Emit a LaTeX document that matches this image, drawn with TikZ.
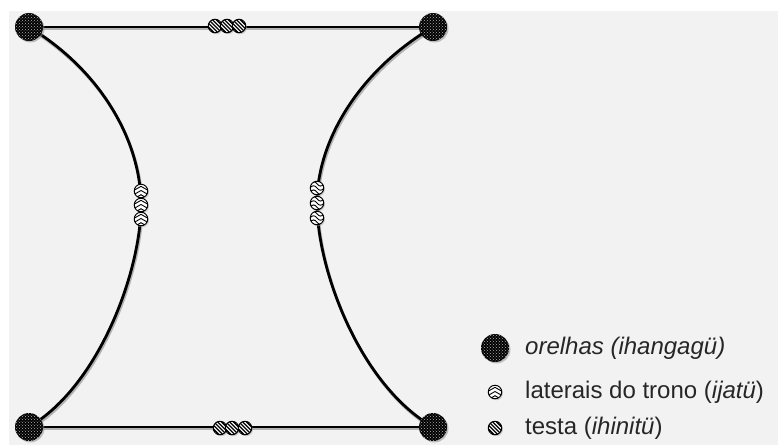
\documentclass[tikz,border=0pt]{standalone}
\usepackage{fontspec}
\setmainfont{Liberation Sans}
\usetikzlibrary{shadows,patterns}

\tikzset{
  cord/.style={line width=2.8pt, preaction={draw=black!30, line width=2.8pt, transform canvas={shift={(1,2)}}}},
  ear/.style={circle, minimum size=28pt, inner sep=0pt, fill=black,
    drop shadow={shadow xshift=1.5pt, shadow yshift=-1.5pt, fill=black!45},
    postaction={pattern=crosshatch dots, pattern color=white!70!black}},
  bead/.style={circle, minimum size=13.5pt, inner sep=0pt, draw=black, line width=1pt, fill=white,
    drop shadow={shadow xshift=1.2pt, shadow yshift=-1.5pt, fill=black!35}},
  stripebead/.style={bead, path picture={
    \begin{scope}[shift={(path picture bounding box.center)}]
      \foreach \o in {-11.4,-7.6,...,11.4}
        \draw[line width=1.3pt] (\o-8,-8) -- (\o+8,8);
    \end{scope}}},
  chevbead/.style={bead, path picture={
    \begin{scope}[shift={(path picture bounding box.center)}]
      \foreach \d in {-4.2,0,4.2}
        \draw[line width=0.9pt] (-7,\d+3.5) -- (0,\d-0.5) -- (7,\d+3.5);
    \end{scope}}},
  wavebead/.style={bead, path picture={
    \begin{scope}[shift={(path picture bounding box.center)}]
      \foreach \d in {-4.2,0,4.2}
        \draw[line width=0.9pt] (-7,\d) .. controls (-4.5,\d-3) and (-2.5,\d-3) .. (0,\d)
          .. controls (2.5,\d+3) and (4.5,\d+3) .. (7,\d);
    \end{scope}}},
  legtext/.style={anchor=west, inner sep=0pt, text=black!85, font=\fontsize{24}{28}\selectfont}
}

\begin{document}
\begin{tikzpicture}[x=1pt, y=-1pt]
\useasboundingbox (0,0) rectangle (778,445);
\fill[black!5] (9,11) rectangle (778,445);
% corner points of the seat frame
\coordinate (tl) at (29,27);
\coordinate (tr) at (433,27);
\coordinate (bl) at (29,427);
\coordinate (br) at (433,427);
\coordinate (ml) at (141,205);
\coordinate (mr) at (317,203);
% cords between the corners
\draw[cord] (tl) -- (tr);
\draw[cord] (bl) -- (br);
\draw[cord] (tl) .. controls (100,70) and (141,140) .. (ml) .. controls (141,270) and (100,385) .. (bl);
\draw[cord] (tr) .. controls (360,70) and (317,140) .. (mr) .. controls (317,270) and (360,385) .. (br);
% ears at the corners
\node[ear] (eartl) at (tl) {};
\node[ear] (eartr) at (tr) {};
\node[ear] (earbl) at (bl) {};
\node[ear] (earbr) at (br) {};
% forehead beads, top and bottom
\node[stripebead] (top1) at (215,26) {};
\node[stripebead] (top2) at (227,26) {};
\node[stripebead] (top3) at (239,26) {};
\node[stripebead] (bot1) at (220,428) {};
\node[stripebead] (bot2) at (232,428) {};
\node[stripebead] (bot3) at (245,428) {};
% side beads
\node[chevbead] (left1) at (141,191) {};
\node[chevbead] (left2) at (141,205) {};
\node[chevbead] (left3) at (141,219) {};
\node[wavebead] (right1) at (317,188) {};
\node[wavebead] (right2) at (317,203) {};
\node[wavebead] (right3) at (317,218) {};
% legend
\node[ear] (legear) at (495,348) {};
\node[legtext] (legeartext) at (525,348) {\textit{orelhas (ihangagü)}};
\node[chevbead] (legside) at (495,392) {};
\node[legtext] (legsidetext) at (525,392) {laterais do trono (\textit{ijatü})};
\node[stripebead] (legfront) at (495,428) {};
\node[legtext] (legfronttext) at (525,428) {testa (\textit{ihinitü})};
\end{tikzpicture}
\end{document}
